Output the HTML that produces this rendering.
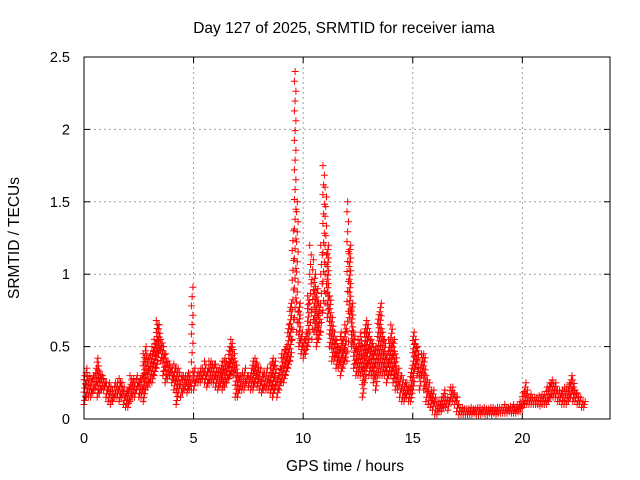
<!DOCTYPE html>
<html><head><meta charset="utf-8"><style>
body{margin:0;background:#fff}
svg{display:block;font-family:"Liberation Sans",sans-serif}
</style></head><body>
<svg id="chart" width="640" height="480" viewBox="0 0 640 480" xmlns="http://www.w3.org/2000/svg">
<rect width="640" height="480" fill="#fff"/>
<text x="344" y="33" font-size="15.5" text-anchor="middle">Day 127 of 2025, SRMTID for receiver iama</text>
<text x="345" y="471" font-size="15.5" text-anchor="middle">GPS time / hours</text>
<text transform="translate(19,238) rotate(-90)" font-size="15.5" text-anchor="middle">SRMTID / TECUs</text>
<g id="grid"></g><g id="pts"></g><g id="axes"></g>
</svg>
<script>
const xTicks=[0,5,10,15,20];
const yTicks=[0,0.5,1,1.5,2,2.5];
const yTickLabels=["0","0.5","1","1.5","2","2.5"];
const startHour=0, stepHour=0.1;
const lo=[0.1,0.15,0.15,0.15,0.18,0.2,0.15,0.18,0.2,0.2,
0.15,0.12,0.1,0.12,0.15,0.15,0.12,0.15,0.1,0.08,
0.08,0.12,0.15,0.15,0.2,0.15,0.15,0.12,0.2,0.22,
0.25,0.25,0.3,0.35,0.45,0.4,0.3,0.25,0.28,0.3,
0.25,0.2,0.1,0.18,0.15,0.18,0.2,0.18,0.2,0.2,
0.2,0.25,0.25,0.25,0.28,0.25,0.22,0.25,0.25,0.25,
0.22,0.2,0.22,0.2,0.22,0.25,0.28,0.3,0.3,0.15,
0.15,0.2,0.2,0.2,0.25,0.22,0.2,0.2,0.25,0.22,
0.2,0.18,0.2,0.2,0.2,0.18,0.15,0.2,0.15,0.2,
0.25,0.25,0.3,0.35,0.4,0.55,0.7,0.6,0.5,0.45,
0.42,0.45,0.5,0.6,0.55,0.6,0.5,0.55,0.6,0.75,
0.8,0.7,0.5,0.4,0.4,0.35,0.35,0.3,0.35,0.4,
0.4,0.7,0.5,0.35,0.3,0.3,0.3,0.15,0.25,0.35,
0.3,0.3,0.25,0.2,0.3,0.3,0.3,0.3,0.25,0.3,
0.3,0.25,0.2,0.2,0.15,0.12,0.12,0.15,0.12,0.12,
0.2,0.35,0.3,0.2,0.3,0.2,0.12,0.1,0.08,0.06,
0.03,0.03,0.05,0.05,0.08,0.08,0.06,0.12,0.12,0.1,
0.05,0.03,0.03,0.03,0.03,0.03,0.03,0.03,0.04,0.03,
0.03,0.03,0.04,0.03,0.03,0.04,0.03,0.04,0.03,0.04,
0.04,0.04,0.04,0.04,0.05,0.04,0.04,0.04,0.05,0.05,
0.08,0.1,0.1,0.1,0.1,0.1,0.1,0.1,0.09,0.1,
0.1,0.1,0.12,0.15,0.15,0.15,0.12,0.12,0.1,0.1,
0.1,0.12,0.15,0.12,0.12,0.1,0.1,0.08,0.08];
const hi=[0.3,0.35,0.3,0.28,0.3,0.35,0.42,0.33,0.3,0.28,
0.25,0.25,0.22,0.2,0.25,0.25,0.28,0.25,0.22,0.2,
0.22,0.3,0.28,0.25,0.3,0.28,0.3,0.45,0.5,0.42,
0.45,0.5,0.55,0.68,0.65,0.55,0.5,0.45,0.4,0.38,
0.35,0.38,0.35,0.35,0.3,0.3,0.3,0.32,0.3,0.91,
0.35,0.3,0.32,0.35,0.35,0.4,0.35,0.4,0.4,0.38,
0.38,0.35,0.35,0.4,0.42,0.4,0.5,0.55,0.48,0.4,
0.32,0.3,0.32,0.35,0.3,0.3,0.35,0.4,0.42,0.38,
0.35,0.32,0.32,0.35,0.3,0.38,0.42,0.4,0.3,0.35,
0.45,0.48,0.5,0.65,0.8,1.3,2.4,1.5,0.8,0.6,
0.55,0.6,0.85,1.2,1.1,1.0,0.9,0.8,1.2,1.75,
1.6,1.2,0.85,0.7,0.6,0.55,0.5,0.6,0.55,0.65,
1.5,1.2,0.8,0.6,0.5,0.55,0.6,0.5,0.65,0.68,
0.6,0.55,0.5,0.5,0.72,0.8,0.6,0.55,0.45,0.55,
0.65,0.55,0.45,0.35,0.3,0.3,0.25,0.25,0.22,0.35,
0.6,0.55,0.5,0.35,0.45,0.45,0.3,0.25,0.2,0.2,
0.15,0.12,0.12,0.15,0.2,0.15,0.15,0.22,0.22,0.18,
0.15,0.1,0.08,0.07,0.07,0.07,0.08,0.07,0.07,0.08,
0.08,0.07,0.08,0.07,0.07,0.08,0.08,0.07,0.08,0.08,
0.08,0.08,0.1,0.08,0.09,0.08,0.1,0.09,0.1,0.12,
0.18,0.25,0.2,0.15,0.17,0.15,0.15,0.16,0.15,0.17,
0.17,0.22,0.25,0.27,0.25,0.25,0.2,0.2,0.2,0.22,
0.22,0.25,0.3,0.27,0.2,0.18,0.15,0.12,0.12];

const L=84,R=610,T=57,B=419;
const xs=h=>L+(h/24)*(R-L);
const ys=v=>B-(v/2.5)*(B-T);
const NS="http://www.w3.org/2000/svg";
function mk(tag,attrs,parent){const e=document.createElementNS(NS,tag);for(const k in attrs)e.setAttribute(k,attrs[k]);parent.appendChild(e);return e;}
const grid=document.getElementById('grid'),pts=document.getElementById('pts'),axes=document.getElementById('axes');
xTicks.forEach(t=>{
  const x=xs(t);
  if(t>0){const g=mk('line',{x1:x,y1:T,x2:x,y2:B,stroke:'#a0a0a0','stroke-dasharray':'2,3'},grid);
  
  }
  mk('line',{x1:x,y1:B,x2:x,y2:B-6,stroke:'#000'},axes);
  mk('line',{x1:x,y1:T,x2:x,y2:T+6,stroke:'#000'},axes);
  const tx=mk('text',{x:x,y:B+24,'font-size':14.5,'text-anchor':'middle'},axes);
  tx.textContent=String(t);
  
  
});
yTicks.forEach((t,i)=>{
  const y=ys(t);
  if(t>0&&t<2.5){const g=mk('line',{x1:L,y1:y,x2:R,y2:y,stroke:'#a0a0a0','stroke-dasharray':'2,3'},grid);
  
  }
  mk('line',{x1:L,y1:y,x2:L+6,y2:y,stroke:'#000'},axes);
  mk('line',{x1:R,y1:y,x2:R-6,y2:y,stroke:'#000'},axes);
  const tx=mk('text',{x:L-14,y:y+5,'font-size':14.5,'text-anchor':'end'},axes);
  tx.textContent=yTickLabels[i];
  
  
});
const frame=mk('rect',{x:L,y:T,width:R-L,height:B-T,fill:'none',stroke:'#000'},axes);


let d='';
function plus(x,y){d+=`M${(x-3.5).toFixed(1)} ${y.toFixed(1)}h7M${x.toFixed(1)} ${(y-3.5).toFixed(1)}v7`;}
lo.forEach((l,i)=>{
  const h=hi[i];
  const t=startHour+i*stepHour;
  const span=h-l;
  const spacing=span>0.5?0.07:0.03;
  const n=Math.max(2,Math.ceil(span/spacing));
  for(let k=0;k<=n;k++){
    const v=l+span*k/n;
    const tt=t+((k%3)/3)*stepHour;
    plus(xs(tt),ys(v));
  }
});
const p=mk('path',{d:d,stroke:'#ff0000','stroke-width':1,fill:'none'},pts);


</script>
</body></html>
